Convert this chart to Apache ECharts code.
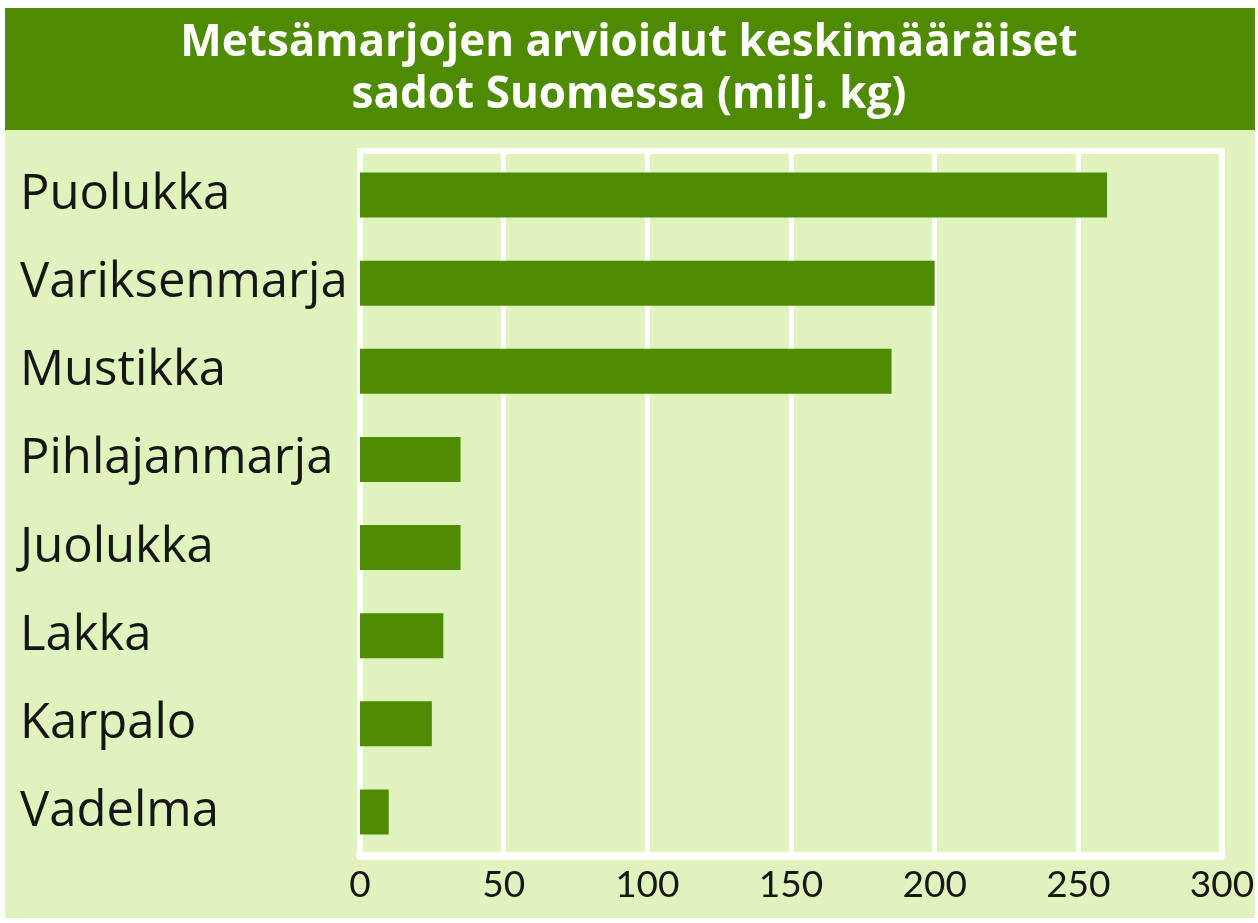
<!DOCTYPE html>
<html lang="fi">
<head>
    <meta charset="UTF-8" />
    <title>Metsämarjojen sadot</title>
    <script src="https://cdn.jsdelivr.net/npm/echarts@6/dist/echarts.min.js"></script>
    <style>
        body { margin: 0; background: #ffffff; }
        #chart { width: 1258px; height: 923px; }
    </style>
</head>
<body>
    <div id="chart"></div>

    <script>
        // data
        let berries = ["Puolukka", "Variksenmarja", "Mustikka", "Pihlajanmarja", "Juolukka", "Lakka", "Karpalo", "Vadelma"];
        let harvest = [260, 200, 185, 35, 35, 29, 25, 10];
        let xTicks = [0, 50, 100, 150, 200, 250, 300];

        let darkGreen = "#4f8b00";
        let paleGreen = "#dff3bd";

        let myChart = echarts.init(document.getElementById("chart"), null, { renderer: "canvas" });

        let option = {
            animation: false,
            graphic: [
                // page background + title band
                { type: "rect", z: -10, shape: { x: 5, y: 8, width: 1250, height: 910 }, style: { fill: paleGreen } },
                { type: "rect", z: -9, shape: { x: 5, y: 8, width: 1250, height: 122 }, style: { fill: darkGreen } },
            ],
            title: {
                text: "Metsämarjojen arvioidut keskimääräiset\nsadot Suomessa (milj. kg)",
                left: "center",
                top: 12,
                textStyle: {
                    color: "#ffffff",
                    fontFamily: "Open Sans",
                    fontWeight: "bold",
                    fontSize: 44,
                    lineHeight: 52,
                },
            },
            grid: {
                left: 360,
                right: 36,
                top: 151,
                bottom: 67,
                show: true,
                borderColor: "#ffffff",
                borderWidth: 6,
                backgroundColor: "transparent",
            },
            xAxis: {
                type: "value",
                min: xTicks[0],
                max: xTicks[xTicks.length - 1],
                interval: 50,
                axisLine: { show: true, lineStyle: { color: "#ffffff", width: 8 } },
                axisTick: { show: false },
                splitLine: { show: true, lineStyle: { color: "#ffffff", width: 5 } },
                axisLabel: {
                    color: "#161616",
                    fontFamily: "Lato",
                    fontSize: 37,
                    margin: 11,
                    formatter: v => xTicks.includes(v) ? String(v) : "",
                },
            },
            yAxis: {
                type: "category",
                data: berries,
                inverse: true,
                axisLine: { show: true, lineStyle: { color: "#ffffff", width: 5 } },
                axisTick: { show: false },
                splitLine: { show: false },
                axisLabel: {
                    color: "#161616",
                    fontFamily: "Open Sans",
                    fontSize: 49,
                    align: "left",
                    margin: 340,
                },
            },
            series: [
                {
                    type: "bar",
                    data: harvest,
                    barWidth: 45,
                    z: 3,
                    itemStyle: { color: darkGreen },
                },
            ],
        };

        myChart.setOption(option);
    </script>
</body>
</html>
